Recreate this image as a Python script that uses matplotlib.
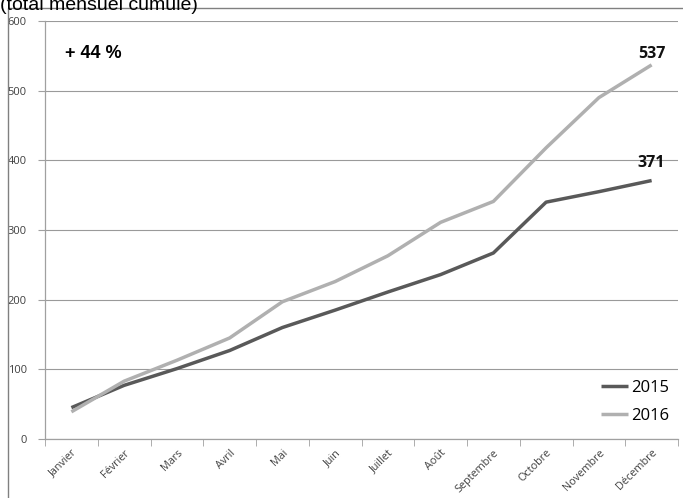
import matplotlib
matplotlib.use("Agg")
import matplotlib.pyplot as plt
from matplotlib.patches import Rectangle

months = ["Janvier", "Février", "Mars", "Avril", "Mai", "Juin", "Juillet",
          "Août", "Septembre", "Octobre", "Novembre", "Décembre"]
values_2015 = [45, 77, 101, 127, 160, 185, 211, 236, 267, 340, 355, 371]
values_2016 = [39, 83, 113, 145, 197, 226, 263, 311, 341, 418, 490, 537]
yticks = [0, 100, 200, 300, 400, 500, 600]
title = "(total mensuel cumulé)"
growth_label = "+ 44 %"

fig = plt.figure(figsize=(6.83, 4.98), dpi=100)
ax = fig.add_axes([45/683, 59/498, 633/683, 418/498])

x = list(range(len(months)))
ax.plot(x, values_2015, color="#595959", lw=2.5, label="2015", solid_capstyle="butt")
ax.plot(x, values_2016, color="#b0b0b0", lw=2.5, label="2016", solid_capstyle="butt")

ax.set_xlim(-0.5, len(months) - 0.5)
ax.set_ylim(0, 600)
ax.set_yticks(yticks)
ax.set_yticklabels([str(v) for v in yticks], fontsize=8, color="#404040", family="Open Sans")
ax.set_xticks(x)
ax.set_xticklabels(months, rotation=45, ha="right", rotation_mode="anchor",
                   fontsize=7.8, color="#404040", family="Open Sans")
ax.tick_params(axis="x", length=0, pad=6)
ax.set_xticks([i - 0.5 for i in range(len(months) + 1)], minor=True)
ax.tick_params(axis="x", which="minor", length=5, color="#a0a0a0", direction="out")
ax.tick_params(axis="y", length=5, color="#a0a0a0", pad=8)

ax.grid(axis="y", color="#9a9a9a", lw=0.8)
ax.set_axisbelow(True)
for s in ["top", "right"]:
    ax.spines[s].set_visible(False)
for s in ["left", "bottom"]:
    ax.spines[s].set_color("#a0a0a0")
    ax.spines[s].set_linewidth(0.9)

ax.text(-0.13, 553, growth_label, fontsize=13, fontweight="bold", family="Liberation Sans",
        ha="left", va="center")
ax.annotate(str(values_2016[-1]), (x[-1], values_2016[-1]), xytext=(0, 5),
            textcoords="offset points", ha="center", va="baseline",
            fontsize=11.5, fontweight="bold", family="Open Sans", color="#111111")
ax.annotate(str(values_2015[-1]), (x[-1], values_2015[-1]), xytext=(0, 9.5),
            textcoords="offset points", ha="center", va="baseline",
            fontsize=11.5, fontweight="bold", family="Open Sans", color="#111111")

leg = ax.legend(loc="lower right", bbox_to_anchor=(1.01, 0.0), frameon=False,
                handlelength=1.6, handletextpad=0.2, labelspacing=0.75,
                prop={"family": "Open Sans", "size": 12})

fig.patches.append(Rectangle((8/683, -0.1), 1.2, (490/498) + 0.1,
                             transform=fig.transFigure, fill=False,
                             edgecolor="#808080", lw=1.0))
fig.text(0.0, 1 - 10/498, title, fontsize=14, family="Liberation Sans",
         ha="left", va="baseline")

fig.savefig("out.png", dpi=100)
